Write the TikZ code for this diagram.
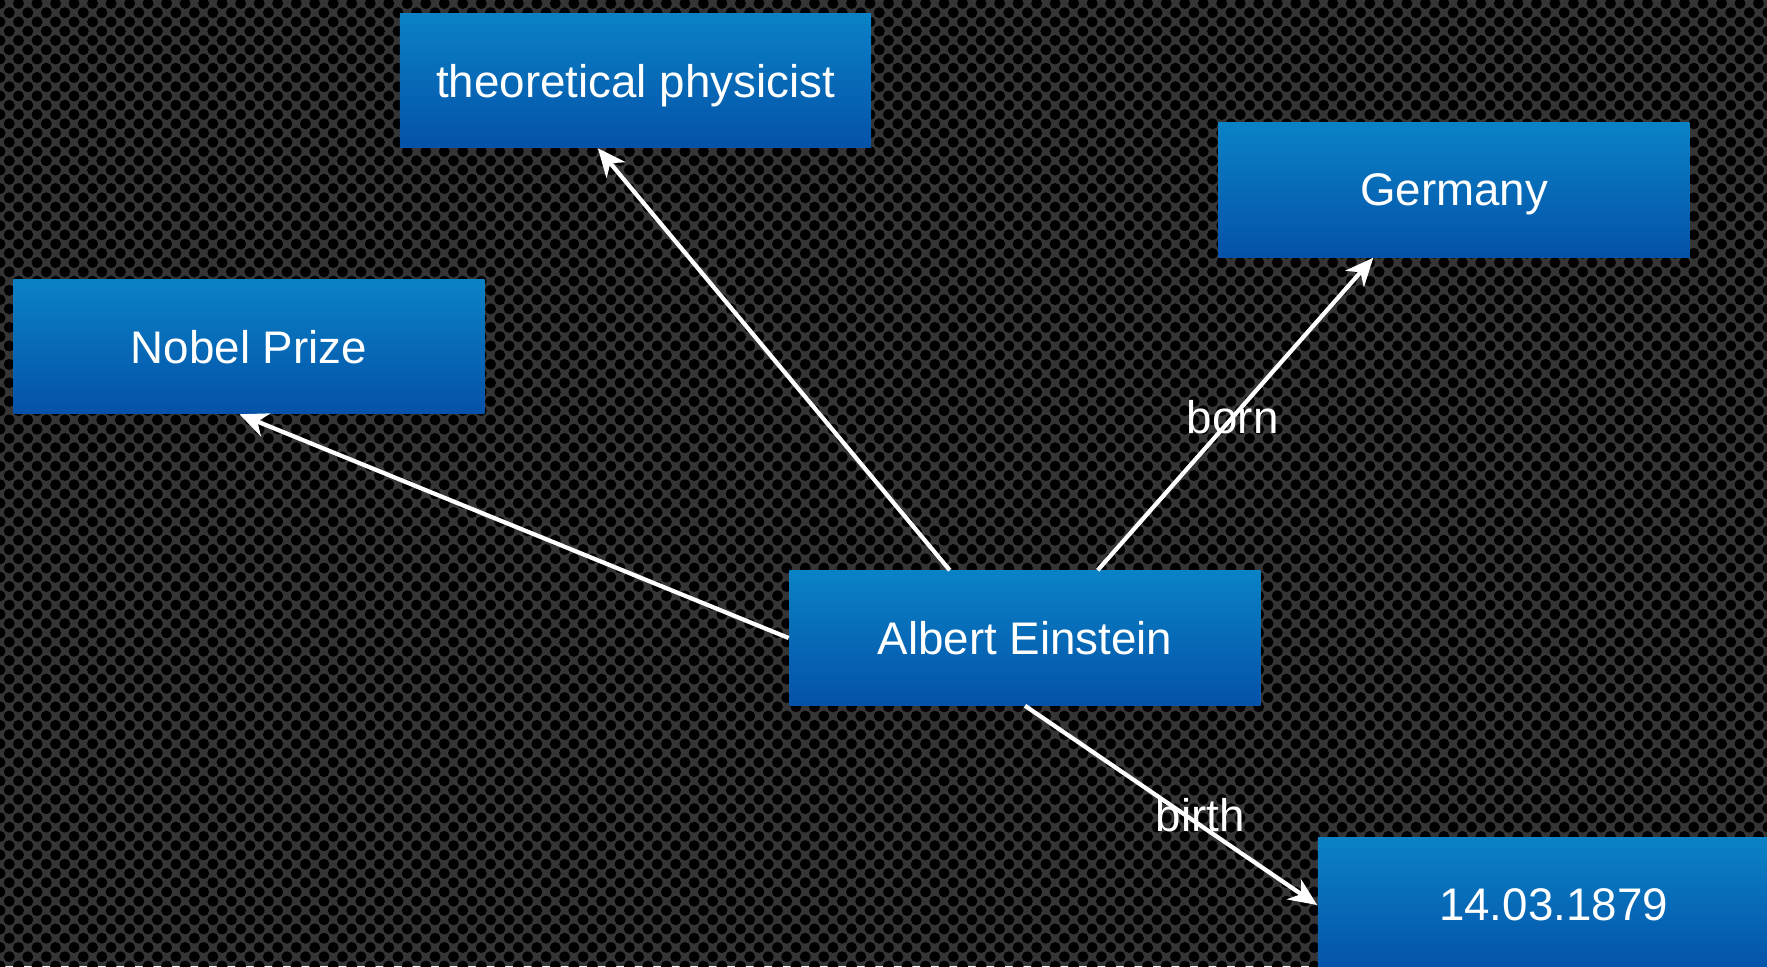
\documentclass[tikz,border=0pt]{standalone}
\usepackage{fontspec}
\setmainfont{Liberation Sans}
\usetikzlibrary{arrows.meta,patterns.meta}
\definecolor{boxtop}{HTML}{0A82C6}
\definecolor{boxbot}{HTML}{0452A9}
\definecolor{bggrey}{HTML}{353535}
\tikzset{
  fact/.style={rectangle, minimum width=4.71cm, minimum height=1.34cm, inner sep=0pt, text depth=0pt,
    top color=boxtop, bottom color=boxbot, text=white, font=\fontsize{13}{15}\selectfont},
  rel/.style={draw=white, line width=1.2pt, -{Stealth[length=8pt,width=7pt,inset=2.5pt]}},
  lbl/.style={text=white, font=\fontsize{13}{15}\selectfont, inner sep=0pt}
}
\begin{document}
\begin{tikzpicture}[x=0.01cm,y=-0.01cm]
  \useasboundingbox (0,0) rectangle (1767,966);
  \clip (0,0) rectangle (1767,966);
  % perforated background
  \fill[bggrey] (0,0) rectangle (1767,966);
  \fill[pattern={Dots[distance=1.85mm,radius=0.55mm]},pattern color=black] (0,0) rectangle (1767,966);
  \fill[pattern={Dots[distance=1.85mm,radius=0.55mm,xshift=0.925mm,yshift=0.925mm]},pattern color=black] (0,0) rectangle (1767,966);
  % facts
  \node[fact] (tp) at (635.5,80.6) {theoretical physicist};
  \node[fact] (ge) at (1454,190) {Germany};
  \node[fact] (np) at (249,346.5) {Nobel Prize};
  \node[fact] (ae) at (1025,638) {Albert Einstein};
  \node[fact] (dt) at (1553.5,905) {14.03.1879};
  % relations
  \draw[rel] (ae.138) -- (tp.241);
  \draw[rel] (ae.west) -- (np.262);
  \draw[rel] (ae.43) -- (ge.220) node[lbl,pos=0.49] {born};
  \draw[rel] (ae.south) -- (dt.west) node[lbl,pos=0.6,yshift=3pt] {birth};
\end{tikzpicture}
\end{document}
